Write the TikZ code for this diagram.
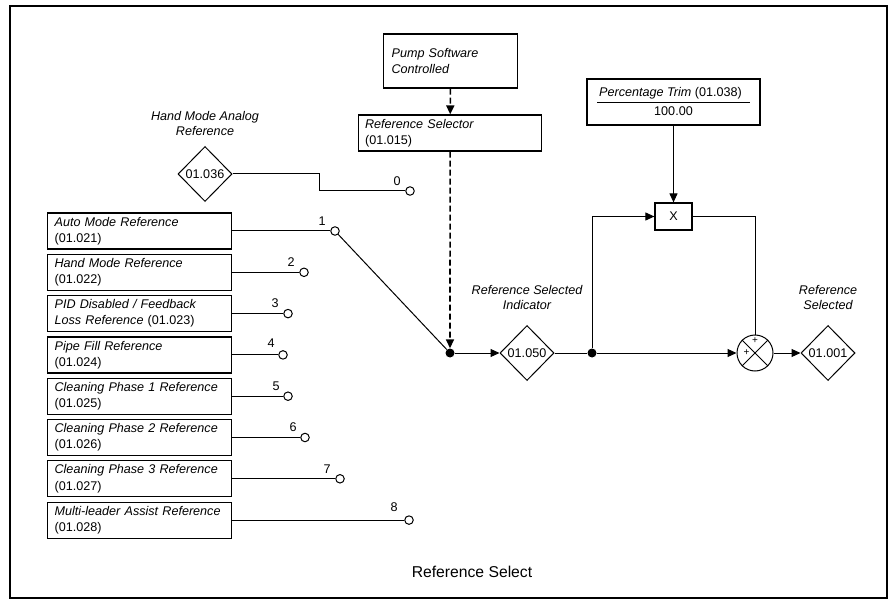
\documentclass[tikz,border=0pt]{standalone}
\usepackage{fontspec}
\setmainfont{Liberation Sans}
\usetikzlibrary{arrows.meta,shapes.geometric}

\newcommand{\lblfont}{\fontsize{12.6bp}{16.2bp}\selectfont}
\newcommand{\smallfont}{\fontsize{10bp}{12bp}\selectfont}

\tikzset{
  wire/.style={line width=1bp},
  sig/.style={wire,-{Triangle[length=9bp,width=8bp]}},
  ctrl/.style={line width=1.6bp,dash pattern=on 6bp off 3bp,-{Triangle[length=9bp,width=8bp]}},
  parbox/.style={draw,line width=1.2bp,minimum height=36bp,text width=170bp,
    inner xsep=7bp,inner ysep=0pt,align=left,anchor=west,font=\lblfont},
  param/.style={draw,diamond,line width=1bp,inner sep=0pt,minimum width=54bp,
    minimum height=55bp,font=\lblfont},
  contact/.style={draw,circle,wire,fill=white,inner sep=0pt,minimum size=8.5bp},
  joint/.style={circle,fill=black,inner sep=0pt,minimum size=9bp},
  num/.style={font=\lblfont,inner sep=0pt},
  lbl/.style={font=\fontsize{12.6bp}{15.2bp}\selectfont\itshape,align=center,inner sep=0pt}
}

\begin{document}
\begin{tikzpicture}[x=1bp,y=-1bp]
\useasboundingbox (0,0) rectangle (889,602);
\draw [line width=1.2bp] (10,6) rectangle (887,598);

% selecteur
\node [parbox,text width=118bp,minimum height=54bp,inner xsep=8bp] (pump) at (383,61)
  {\itshape Pump Software\\Controlled};
\node [parbox,minimum height=36bp,inner xsep=6.5bp] (sel) at (358,133)
  {\textit{Reference Selector}\\(01.015)};

% entrees
\node [lbl] (hmlbl) at (205,123.5) {Hand Mode Analog\\Reference};
\node [param] (d036) at (205,174) {01.036};
\node [parbox] (auto)  at (47,231)   {\textit{Auto Mode Reference}\\(01.021)};
\node [parbox] (hand)  at (47,272.3) {\textit{Hand Mode Reference}\\(01.022)};
\node [parbox] (pid)   at (47,313.6) {\textit{PID Disabled / Feedback}\\\textit{Loss Reference} (01.023)};
\node [parbox] (fill)  at (47,354.9) {\textit{Pipe Fill Reference}\\(01.024)};
\node [parbox] (clean1) at (47,396.2) {\textit{Cleaning Phase 1 Reference}\\(01.025)};
\node [parbox] (clean2) at (47,437.5) {\textit{Cleaning Phase 2 Reference}\\(01.026)};
\node [parbox] (clean3) at (47,478.8) {\textit{Cleaning Phase 3 Reference}\\(01.027)};
\node [parbox] (assist) at (47,520.1) {\textit{Multi-leader Assist Reference}\\(01.028)};

% contacts du commutateur
\node [contact] (s0) at (410,191) {};
\node [contact] (s1) at (335,231) {};
\node [contact] (s2) at (304,272.3) {};
\node [contact] (s3) at (288,313.6) {};
\node [contact] (s4) at (283,354.9) {};
\node [contact] (s5) at (288,396.2) {};
\node [contact] (s6) at (305,437.5) {};
\node [contact] (s7) at (340,478.8) {};
\node [contact] (s8) at (409,520.1) {};
\node [num] (n0) at (397,181) {0};
\node [num] (n1) at (322,221) {1};
\node [num] (n2) at (291,262) {2};
\node [num] (n3) at (275,303) {3};
\node [num] (n4) at (271,343.5) {4};
\node [num] (n5) at (276,386) {5};
\node [num] (n6) at (293,427) {6};
\node [num] (n7) at (327,469) {7};
\node [num] (n8) at (394,507) {8};

\draw [wire] (d036.east) -- (319,174) |- (s0.west);
\draw [wire] (auto.east) -- (s1);
\draw [wire] (hand.east) -- (s2);
\draw [wire] (pid.east) -- (s3);
\draw [wire] (fill.east) -- (s4);
\draw [wire] (clean1.east) -- (s5);
\draw [wire] (clean2.east) -- (s6);
\draw [wire] (clean3.east) -- (s7);
\draw [wire] (assist.east) -- (s8);

% sortie
\node [joint] (j) at (450,353) {};
\node [lbl] (indlbl) at (527,297.5) {Reference Selected\\Indicator};
\node [param] (d050) at (527,353) {01.050};
\node [joint] (k) at (592,353) {};
\node [draw,line width=1.2bp,minimum width=37bp,minimum height=27bp,inner sep=0pt,font=\lblfont] (mul) at (673.5,216.5) {X};
\node [draw,line width=1.2bp,minimum width=173bp,minimum height=46bp] (trim) at (673.5,102) {};
\node [font=\lblfont,inner sep=0pt] (trimname) at (670.5,93) {\textit{Percentage Trim} (01.038)};
\node [font=\lblfont,inner sep=0pt] (trimval) at (673.5,111) {100.00};
\draw [wire] (597,103) -- (750,103);
\node [draw,circle,wire,minimum size=36bp,inner sep=0pt] (sum) at (755,353) {};
\draw [wire] (sum.north west) -- (sum.south east);
\draw [wire] (sum.north east) -- (sum.south west);
\node [font=\smallfont,inner sep=0pt] (p1) at (755,341) {+};
\node [font=\smallfont,inner sep=0pt] (p2) at (746.5,352.5) {+};
\node [lbl] (reflbl) at (828,297.5) {Reference\\Selected};
\node [param] (d001) at (828,353) {01.001};

\draw [ctrl] (pump) -- (sel);
\draw [ctrl] (sel) -- (j);
\draw [wire] (s1) -- (j);
\draw [sig] (j) -- (d050);
\draw [wire] (d050) -- (k);
\draw [sig] (k) -- (sum);
\draw [sig] (k) |- (mul);
\draw [sig] (trim) -- (mul);
\draw [wire] (mul) -| (sum);
\draw [sig] (sum) -- (d001);

\node [font=\fontsize{15.7bp}{18bp}\selectfont] (title) at (472,572) {Reference Select};
\end{tikzpicture}
\end{document}
